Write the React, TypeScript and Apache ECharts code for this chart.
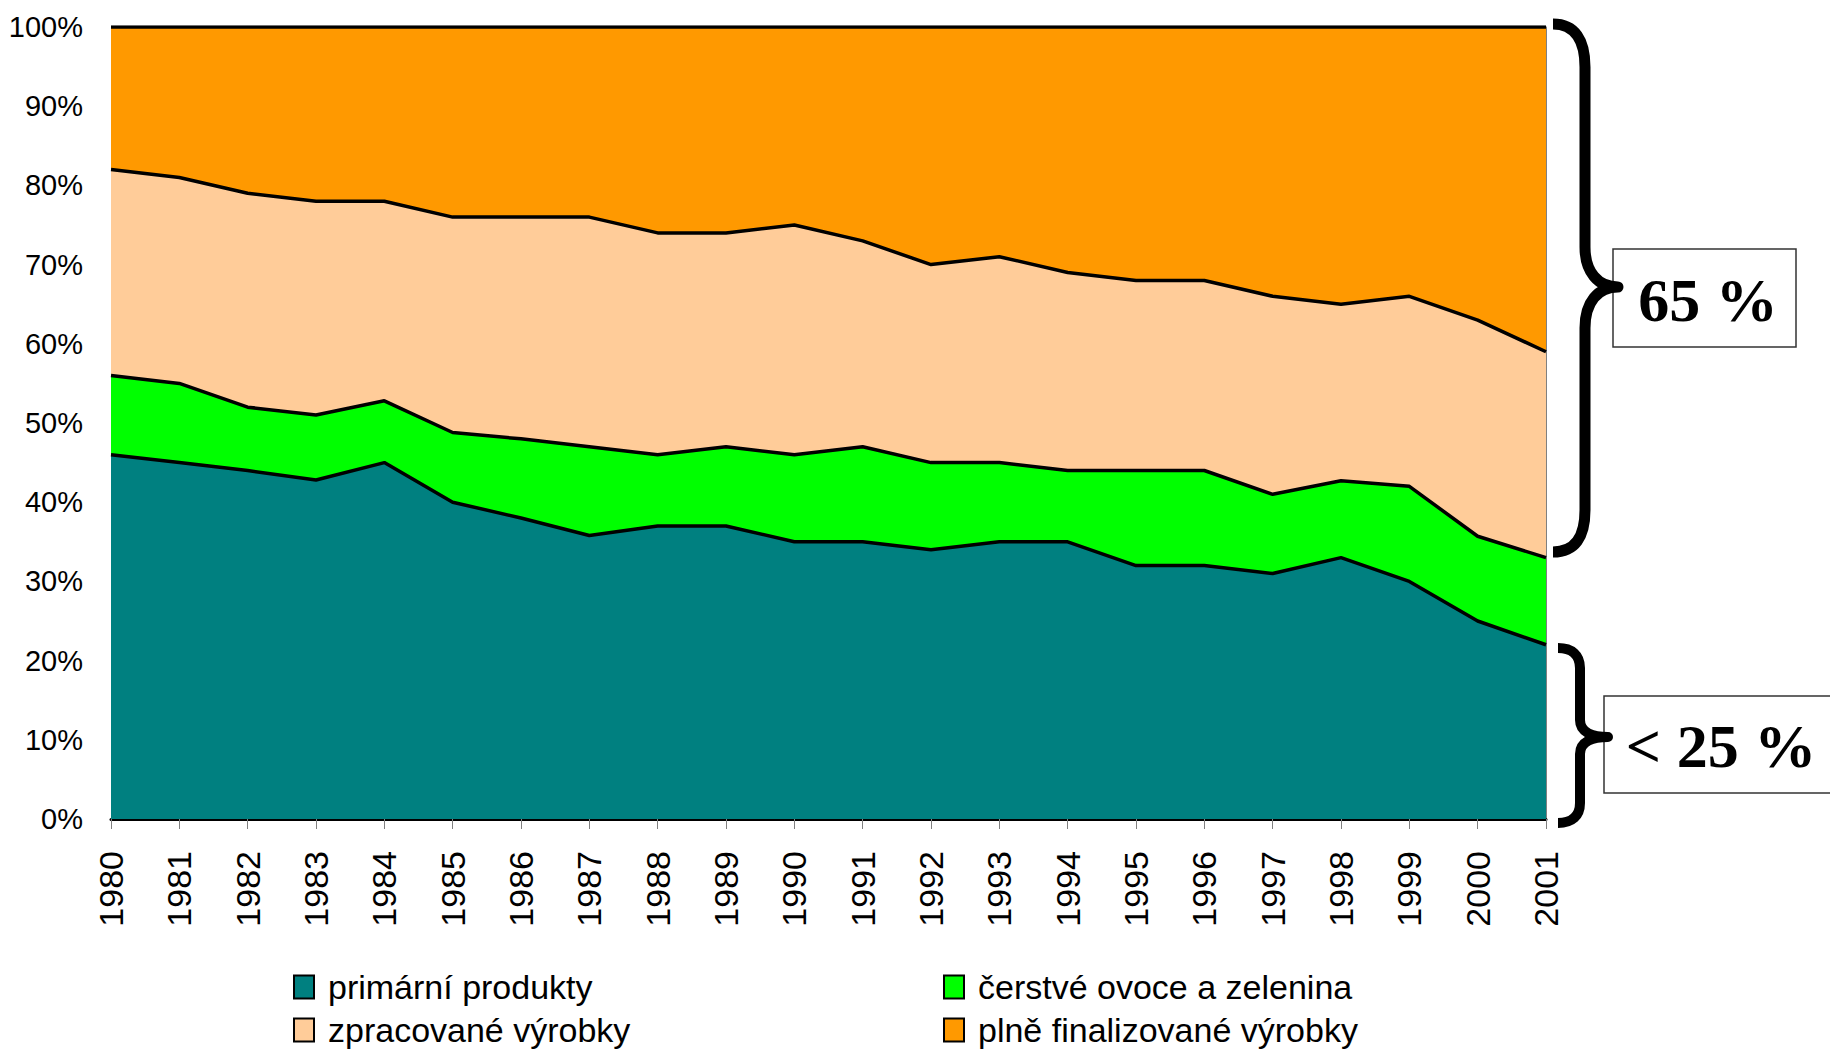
import React, { useEffect, useRef } from "react";
import * as echarts from "echarts";

const years = ["1980","1981","1982","1983","1984","1985","1986","1987","1988","1989","1990","1991","1992","1993","1994","1995","1996","1997","1998","1999","2000","2001"];
const primarni = [46, 45, 44, 42.8, 45, 40, 38, 35.8, 37, 37, 35, 35, 34, 35, 35, 32, 32, 31, 33, 30, 25, 22];
const cerstve = [10, 10, 8, 8.2, 7.8, 8.8, 10, 11.2, 9, 10, 11, 12, 11, 10, 9, 12, 12, 10, 9.7, 12, 10.7, 11];
const zpracovane = [26, 26, 27, 27, 25.2, 27.2, 28, 29, 28, 27, 29, 26, 25, 26, 25, 24, 24, 25, 22.3, 24, 27.3, 26];
const plne = [18, 19, 21, 22, 22, 24, 24, 24, 26, 26, 25, 27, 30, 29, 31, 32, 32, 34, 35, 34, 37, 41];

const seriesNames = ["primární produkty", "čerstvé ovoce a zelenina", "zpracované výrobky", "plně finalizované výrobky"];
const seriesColors = ["#008080", "#00FF00", "#FFCC99", "#FF9900"];
const seriesData = [primarni, cerstve, zpracovane, plne];

const annotationTop = "65 %";
const annotationBottom = "< 25 %";

const BIG_BRACE = "M1553 24 C1575 24 1585 40 1585 67 L1585 247 C1585 272 1598 287 1618 287 C1598 287 1585 302 1585 328 L1585 510 C1585 537 1575 552 1553 552";
const SMALL_BRACE = "M1558 648 C1572 648 1580 655 1580 668 L1580 720 C1580 732 1592 737 1608 737 C1592 737 1580 742 1580 754 L1580 803 C1580 816 1572 823 1558 823";

export default function App() {
  const ref = useRef<HTMLDivElement>(null);
  useEffect(() => {
    document.body.style.margin = "0";
    if (!ref.current) return;
    echarts.graphic.registerShape("braceBig", echarts.graphic.extendPath(BIG_BRACE, {}));
    echarts.graphic.registerShape("braceSmall", echarts.graphic.extendPath(SMALL_BRACE, {}));
    const chart = echarts.init(ref.current, null, { renderer: "svg" });
    const legendText = {
      fontSize: 34,
      fontFamily: "'Liberation Sans', Arial, sans-serif",
      color: "#000",
      lineHeight: 34,
      padding: [0, 0, 0, 9],
    };
    const legendCommon = {
      orient: "vertical",
      top: 970,
      height: 84,
      padding: 0,
      itemWidth: 20,
      itemHeight: 23,
      itemGap: 9,
      icon: "rect",
      textStyle: legendText,
      itemStyle: { borderColor: "#000", borderWidth: 2 },
    };
    chart.setOption({
      animation: false,
      backgroundColor: "#fff",
      grid: { left: 111, right: 284, top: 27, bottom: 235, containLabel: false, outerBoundsMode: "none" },
      legend: [
        {
          ...legendCommon,
          left: 293,
          data: [
            { name: seriesNames[0], itemStyle: { color: seriesColors[0] } },
            { name: seriesNames[2], itemStyle: { color: seriesColors[2] } },
          ],
        },
        {
          ...legendCommon,
          left: 943,
          data: [
            { name: seriesNames[1], itemStyle: { color: seriesColors[1] } },
            { name: seriesNames[3], itemStyle: { color: seriesColors[3] } },
          ],
        },
      ],
      xAxis: {
        type: "category",
        data: years,
        boundaryGap: false,
        axisLine: { show: true, lineStyle: { color: "#000", width: 3 } },
        axisTick: { show: true, interval: 0, length: 10, lineStyle: { color: "#808080", width: 1 } },
        axisLabel: {
          interval: 0,
          rotate: 90,
          margin: 32,
          fontSize: 34,
          fontFamily: "'Liberation Sans', Arial, sans-serif",
          color: "#000",
        },
        splitLine: { show: false },
      },
      yAxis: [
        {
          type: "value",
          min: 0,
          max: 100,
          interval: 10,
          axisLine: { show: true, lineStyle: { color: "#808080", width: 1 } },
          axisTick: { show: false },
          splitLine: { show: false },
          axisLabel: {
            formatter: "{value}%",
            margin: 28,
            fontSize: 29,
            fontFamily: "'Liberation Sans', Arial, sans-serif",
            color: "#000",
          },
        },
        {
          type: "value",
          position: "right",
          min: 0,
          max: 100,
          interval: 10,
          axisLine: { show: true, lineStyle: { color: "#808080", width: 1 } },
          axisTick: { show: false },
          axisLabel: { show: false },
          splitLine: { show: false },
        },
      ],
      series: seriesData.map((d, i) => ({
        name: seriesNames[i],
        type: "line",
        stack: "total",
        data: d,
        z: 10 - i,
        showSymbol: false,
        symbol: "none",
        itemStyle: { color: seriesColors[i] },
        lineStyle: { color: "#000", width: 3.5 },
        areaStyle: { color: seriesColors[i], opacity: 1 },
        emphasis: { disabled: true },
      })),
      graphic: [
        {
          type: "rect",
          shape: { x: 1613, y: 249, width: 183, height: 98 },
          style: { fill: "#fff", stroke: "#333", lineWidth: 1.5 },
          z: 100,
        },
        {
          type: "rect",
          shape: { x: 1604, y: 696, width: 240, height: 97 },
          style: { fill: "#fff", stroke: "#333", lineWidth: 1.5 },
          z: 100,
        },
        {
          type: "braceBig",
          x: 0,
          y: 0,
          style: { fill: null, stroke: "#000", lineWidth: 11, lineJoin: "round" },
          z: 101,
        },
        {
          type: "braceSmall",
          x: 0,
          y: 0,
          style: { fill: null, stroke: "#000", lineWidth: 10, lineJoin: "round" },
          z: 101,
        },
        {
          type: "text",
          x: 1708,
          y: 300,
          style: {
            text: annotationTop,
            font: "bold 62px 'Liberation Serif', 'Times New Roman', serif",
            fill: "#000",
            align: "center",
            verticalAlign: "middle",
          },
          z: 102,
        },
        {
          type: "text",
          x: 1721,
          y: 746,
          style: {
            text: annotationBottom,
            font: "bold 62px 'Liberation Serif', 'Times New Roman', serif",
            fill: "#000",
            align: "center",
            verticalAlign: "middle",
          },
          z: 102,
        },
      ],
    });
    return () => chart.dispose();
  }, []);
  return <div ref={ref} style={{ width: 1830, height: 1054 }} />;
}
